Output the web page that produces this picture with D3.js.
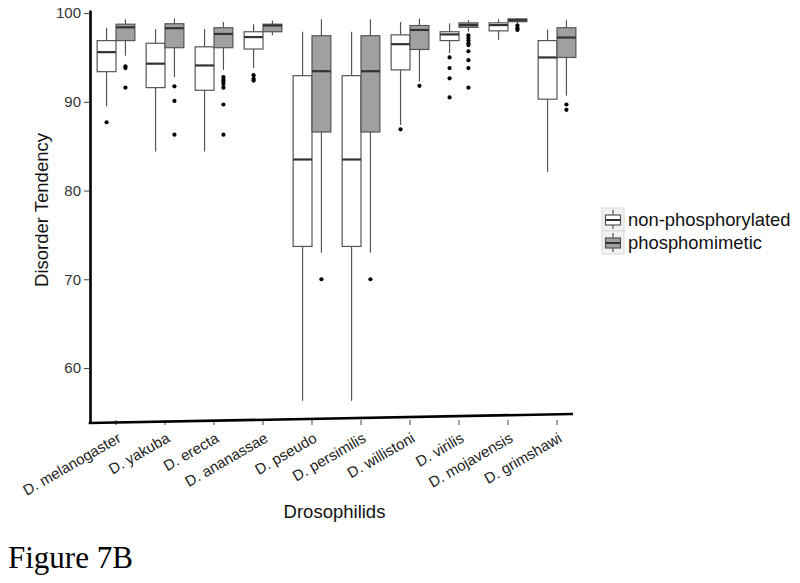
<!DOCTYPE html>
<html>
<head>
<meta charset="utf-8">
<script src="https://cdn.jsdelivr.net/npm/d3@7"></script>
<style>
  body { margin: 0; background: #fff; }
  svg { display: block; font-family: Arial, 'Liberation Sans', sans-serif; }
</style>
</head>
<body>
<div id="chart"></div>
<script>
// Datos
const species = ['D. melanogaster', 'D. yakuba', 'D. erecta', 'D. ananassae', 'D. pseudo',
  'D. persimilis', 'D. willistoni', 'D. virilis', 'D. mojavensis', 'D. grimshawi'];
const groups = ['non-phosphorylated', 'phosphomimetic'];
const yTicks = [60, 70, 80, 90, 100];

// non-phosphorylated
const nonPhosLow = [89.5, 84.4, 84.4, 93.8, 56.3, 56.3, 87.4, 95.5, 97.0, 82.1];
const nonPhosQ1 = [93.4, 91.6, 91.3, 95.95, 73.7, 73.7, 93.6, 96.9, 98.0, 90.3];
const nonPhosMedian = [95.6, 94.3, 94.1, 97.3, 83.5, 83.5, 96.5, 97.6, 98.65, 95.0];
const nonPhosQ3 = [96.9, 96.6, 96.2, 97.9, 92.95, 92.95, 97.55, 97.9, 98.9, 96.9];
const nonPhosHigh = [98.35, 98.2, 98.2, 98.75, 97.9, 97.9, 99.0, 98.85, 99.3, 98.15];
const nonPhosOutliers = [[87.7], [], [], [93.0, 92.6, 92.4], [], [], [86.9],
  [95.0, 93.8, 92.65, 90.5], [], []];

// phosphomimetic
const phosLow = [95.2, 92.8, 93.6, 97.5, 73.0, 73.0, 92.3, 97.9, 98.75, 90.7];
const phosQ1 = [96.9, 96.1, 96.1, 97.9, 86.6, 86.6, 95.9, 98.4, 99.03, 95.0];
const phosMedian = [98.4, 98.3, 97.65, 98.6, 93.45, 93.45, 98.1, 98.65, 99.2, 97.25];
const phosQ3 = [98.75, 98.8, 98.35, 98.75, 97.45, 97.45, 98.6, 98.9, 99.35, 98.35];
const phosHigh = [99.3, 99.4, 99.0, 99.15, 99.3, 99.3, 99.4, 99.2, 99.4, 99.2];
const phosOutliers = [[94.0, 93.8, 91.6], [91.75, 90.1, 86.3],
  [92.8, 92.5, 92.3, 92.0, 91.6, 89.7, 86.3], [], [70.0], [70.0], [91.8],
  [97.5, 97.2, 96.9, 96.6, 96.4, 95.7, 94.7, 93.8, 91.6], [98.6, 98.3, 98.1], [89.7, 89.1]];

const fills = { 'non-phosphorylated': '#ffffff', 'phosphomimetic': '#a0a0a0' };

// Tabla para dibujar
const boxes = [];
species.forEach((sp, i) => {
  boxes.push({ sp, g: groups[0], low: nonPhosLow[i], q1: nonPhosQ1[i], med: nonPhosMedian[i],
    q3: nonPhosQ3[i], high: nonPhosHigh[i], out: nonPhosOutliers[i] });
  boxes.push({ sp, g: groups[1], low: phosLow[i], q1: phosQ1[i], med: phosMedian[i],
    q3: phosQ3[i], high: phosHigh[i], out: phosOutliers[i] });
});

const width = 800, height = 583;
const svg = d3.select('#chart').append('svg')
  .attr('width', width)
  .attr('height', height);

// Escalas
const x = d3.scaleBand().domain(species).range([91.5, 581.5]);
const dodge = x.bandwidth() * 0.77;
const xg = d3.scaleBand().domain(groups).range([-dodge / 2, dodge / 2]);
const y = d3.scaleLinear().domain([53.8, 100.35]).range([423, 10]);

const cx = d => x(d.sp) + x.bandwidth() / 2 + xg(d.g) + xg.bandwidth() / 2;
const bw = xg.bandwidth();

// Cajas
const box = svg.append('g').selectAll('g')
  .data(boxes)
  .join('g');

box.append('line')
  .attr('x1', cx).attr('x2', cx)
  .attr('y1', d => y(d.high)).attr('y2', d => y(d.q3))
  .attr('stroke', '#555').attr('stroke-width', 1.2);

box.append('line')
  .attr('x1', cx).attr('x2', cx)
  .attr('y1', d => y(d.q1)).attr('y2', d => y(d.low))
  .attr('stroke', '#555').attr('stroke-width', 1.2);

box.append('rect')
  .attr('x', d => cx(d) - bw / 2)
  .attr('y', d => y(d.q3))
  .attr('width', bw)
  .attr('height', d => y(d.q1) - y(d.q3))
  .attr('fill', d => fills[d.g])
  .attr('stroke', '#555')
  .attr('stroke-width', 1.2);

box.append('line')
  .attr('x1', d => cx(d) - bw / 2).attr('x2', d => cx(d) + bw / 2)
  .attr('y1', d => y(d.med)).attr('y2', d => y(d.med))
  .attr('stroke', '#333').attr('stroke-width', 2.2);

box.selectAll('circle')
  .data(d => d.out.map(v => ({ v, x: cx(d) })))
  .join('circle')
  .attr('cx', d => d.x)
  .attr('cy', d => y(d.v))
  .attr('r', 2.1)
  .attr('fill', '#000');

// Eje Y
const yAxis = svg.append('g')
  .attr('transform', 'translate(90,0)')
  .call(d3.axisLeft(y).tickValues(yTicks).tickSize(6).tickPadding(3).tickSizeOuter(0));
yAxis.select('.domain').attr('stroke', '#000').attr('stroke-width', 2.6);
yAxis.selectAll('.tick line').attr('stroke', '#444');
yAxis.selectAll('.tick text')
  .attr('font-size', 15)
  .attr('fill', '#333')
  .attr('font-family', 'Arial, Liberation Sans, sans-serif');

// Eje X (la línea de la figura está un poco inclinada)
const xAxis = svg.append('g')
  .attr('transform', 'translate(0,420)')
  .call(d3.axisBottom(x).tickSize(5).tickSizeOuter(0));
xAxis.select('.domain').remove();
xAxis.selectAll('.tick line').attr('stroke', '#444');
xAxis.selectAll('.tick text')
  .attr('font-size', 15)
  .attr('fill', '#222')
  .attr('font-family', 'Arial, Liberation Sans, sans-serif')
  .attr('text-anchor', 'end')
  .attr('y', 0)
  .attr('dy', 0)
  .attr('transform', 'translate(6,21) rotate(-30)');

svg.append('line')
  .attr('x1', 88.7).attr('y1', 423)
  .attr('x2', 573).attr('y2', 414)
  .attr('stroke', '#000')
  .attr('stroke-width', 2.6);

// Títulos
svg.append('text')
  .attr('transform', 'translate(48,210) rotate(-90)')
  .attr('text-anchor', 'middle')
  .attr('font-size', 18.5)
  .attr('fill', '#111')
  .text('Disorder Tendency');

svg.append('text')
  .attr('x', 334.5)
  .attr('y', 518)
  .attr('text-anchor', 'middle')
  .attr('font-size', 18.5)
  .attr('fill', '#111')
  .text('Drosophilids');

// Leyenda
const legend = svg.append('g').attr('transform', 'translate(602,208)');
const key = legend.selectAll('g')
  .data(groups)
  .join('g')
  .attr('transform', (d, i) => `translate(0,${i * 23})`);

key.append('rect')
  .attr('width', 22).attr('height', 23)
  .attr('fill', '#f2f2f2')
  .attr('stroke', '#d8d8d8');

key.append('line')
  .attr('x1', 11).attr('x2', 11)
  .attr('y1', 2).attr('y2', 21)
  .attr('stroke', '#555').attr('stroke-width', 1.2);

key.append('rect')
  .attr('x', 3.5).attr('y', 7)
  .attr('width', 15).attr('height', 10)
  .attr('fill', d => fills[d])
  .attr('stroke', '#555')
  .attr('stroke-width', 1.2);

key.append('line')
  .attr('x1', 3.5).attr('x2', 18.5)
  .attr('y1', 12).attr('y2', 12)
  .attr('stroke', '#333').attr('stroke-width', 2);

key.append('text')
  .attr('x', 26)
  .attr('y', 18)
  .attr('font-size', 18.4)
  .attr('fill', '#111')
  .text(d => d);

// Rótulo de la figura
svg.append('text')
  .attr('x', 8)
  .attr('y', 568)
  .attr('font-family', "'Liberation Serif', 'Times New Roman', serif")
  .attr('font-size', 31)
  .attr('fill', '#000')
  .text('Figure 7B');
</script>
</body>
</html>
